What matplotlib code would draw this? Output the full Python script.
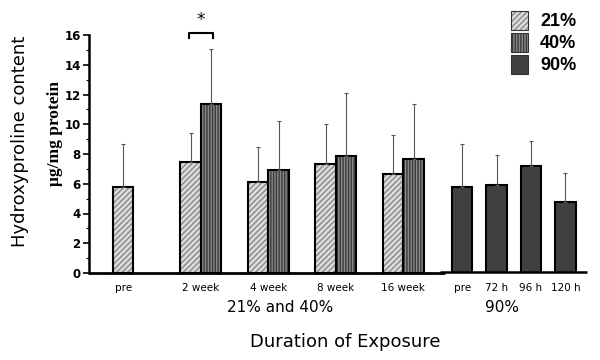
import numpy as np
import matplotlib
matplotlib.use("Agg")
import matplotlib.pyplot as plt
from matplotlib.patches import Rectangle

# --- data ---
week_labels = ["pre", "2 week", "4 week", "8 week", "16 week"]
o21_mean = [5.8, 7.45, 6.15, 7.3, 6.65]
o21_err = [2.9, 1.95, 2.3, 2.75, 2.6]
o40_mean = [np.nan, 11.35, 6.9, 7.85, 7.65]
o40_err = [np.nan, 3.7, 3.3, 4.25, 3.7]

h90_labels = ["pre", "72 h", "96 h", "120 h"]
o90_mean = [5.8, 5.9, 7.2, 4.8]
o90_err = [2.9, 2.0, 1.65, 1.9]

y_ticks = [0, 2, 4, 6, 8, 10, 12, 14, 16]

W, H = 600, 360


def fx(px):
    return px / W


def fy(py):
    return 1 - py / H


fig = plt.figure(figsize=(6, 3.6), dpi=100)
ax = fig.add_axes([fx(89), fy(273), (590 - 89) / W, (273 - 35) / H])

# layout in units of one bar width
bw = 1.0
pair_x = 1.17 + np.arange(len(week_labels)) * 3.29
h90_x = 17.7 + np.arange(len(h90_labels)) * 1.68

c21, c40, c90 = "#dcdcdc", "#8a8a8a", "#404040"
err_kw = dict(fmt="none", ecolor="#555555", elinewidth=0.8, capsize=1.2, capthick=0.8)

# 21% bars
x21 = pair_x + bw / 2
ax.bar(x21, o21_mean, bw, color=c21, hatch="//////", edgecolor="#888888", linewidth=0)
ax.bar(x21, o21_mean, bw, fill=False, edgecolor="black", linewidth=1.5)
ax.errorbar(x21, o21_mean, yerr=[np.zeros(5), o21_err], **err_kw)

# 40% bars
x40 = pair_x + 1.5 * bw
m40 = np.array(o40_mean)
ok = ~np.isnan(m40)
ax.bar(x40[ok], m40[ok], bw, color=c40, hatch="||||||", edgecolor="#3a3a3a", linewidth=0)
ax.bar(x40[ok], m40[ok], bw, fill=False, edgecolor="black", linewidth=1.5)
ax.errorbar(x40[ok], m40[ok], yerr=[np.zeros(ok.sum()), np.array(o40_err)[ok]], **err_kw)

# 90% bars
x90 = h90_x + bw / 2
ax.bar(x90, o90_mean, bw, color=c90, edgecolor="black", linewidth=1.5)
ax.errorbar(x90, o90_mean, yerr=[np.zeros(4), o90_err], **err_kw)

# axes styling
ax.set_xlim(0, (590 - 89) / 20.5)
ax.set_ylim(0, 16)
for s in ["top", "right", "bottom"]:
    ax.spines[s].set_visible(False)
ax.spines["left"].set_linewidth(1.8)
ax.set_yticks(y_ticks)
ax.set_yticks(np.arange(1, 16, 2), minor=True)
ax.tick_params(axis="y", which="major", length=4, width=1.2, pad=2)
ax.tick_params(axis="y", which="minor", length=2, width=0.8)
for lab in ax.get_yticklabels():
    lab.set_fontfamily(["Liberation Sans Narrow", "DejaVu Sans"])
    lab.set_fontweight("bold")
    lab.set_fontsize(8.5)

# two separate baselines
ax.plot([0, 17.37], [0, 0], color="black", lw=2, clip_on=False, solid_capstyle="butt")
ax.plot([17.1, 24.3], [0.07, 0.07], color="black", lw=1.8, clip_on=False, solid_capstyle="butt")

ax.set_xticks(list(x21[:1]) + list(pair_x[1:] + bw) + list(x90))
ax.set_xticklabels(week_labels + h90_labels, fontsize=7.5)
ax.tick_params(axis="x", length=0, pad=7)

# significance bracket
bx0, bx1 = x21[1] - 0.1, x40[1] + 0.1
ax.plot([bx0, bx0, bx1, bx1], [15.8, 16.15, 16.15, 15.8], color="black", lw=1.5, clip_on=False)
ax.text((bx0 + bx1) / 2, 16.4, "*", ha="center", va="bottom", fontsize=12, clip_on=False)

# group labels and titles
fig.text(fx(280), fy(307), "21% and 40%", ha="center", va="center", fontsize=11)
fig.text(fx(502), fy(307), "90%", ha="center", va="center", fontsize=11)
fig.text(fx(345), fy(342), "Duration of Exposure", ha="center", va="center", fontsize=13)
fig.text(fx(20), fy(141), "Hydroxyproline content", ha="center", va="center",
         rotation=90, fontsize=13)
fig.text(fx(55), fy(133), "\u03bcg/mg protein", ha="center", va="center", rotation=90,
         fontsize=12.5, fontweight="bold", family=["Liberation Serif", "DejaVu Serif"])

# legend, drawn by hand
leg_items = [("21%", c21, "//////", "#888888"), ("40%", c40, "||||||", "#3a3a3a"),
             ("90%", c90, None, None)]
for i, (txt, col, hat, hc) in enumerate(leg_items):
    top = 11 + i * 22
    fig.add_artist(Rectangle((fx(511), fy(top + 19)), 17 / W, 19 / H, transform=fig.transFigure,
                             facecolor=col, hatch=hat, edgecolor=hc if hc else "black", linewidth=0))
    fig.add_artist(Rectangle((fx(511), fy(top + 19)), 17 / W, 19 / H, transform=fig.transFigure,
                             fill=False, edgecolor="#333333", linewidth=0.8))
    fig.text(fx(540), fy(top + 11), txt, ha="left", va="center", fontsize=13,
             fontweight="bold", family=["Liberation Sans", "DejaVu Sans"])

fig.savefig("out.png", dpi=100)
